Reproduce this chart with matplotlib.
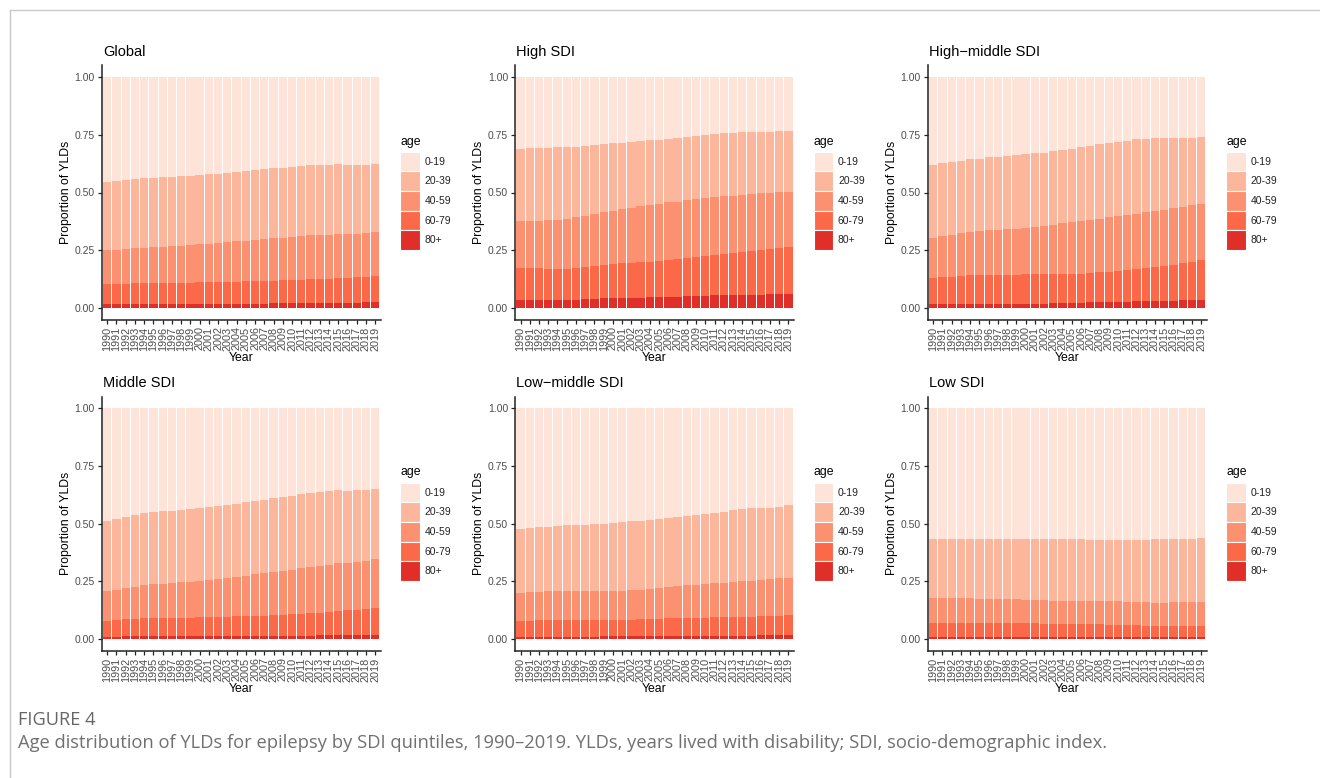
import matplotlib
matplotlib.use("Agg")
import matplotlib.pyplot as plt
from matplotlib.patches import Rectangle
from matplotlib.lines import Line2D
from matplotlib import font_manager
import numpy as np

plt.rcParams['font.family'] = ['Liberation Sans', 'DejaVu Sans']

years = list(range(1990, 2020))
age_groups = ["0-19", "20-39", "40-59", "60-79", "80+"]
age_colors = ["#FDE3D8", "#FBB69B", "#FB9171", "#FC6949", "#DF2F28"]
regions = ["Global", "High SDI", "High\u2212middle SDI", "Middle SDI", "Low\u2212middle SDI", "Low SDI"]

# cumulative shares: share of ages 20+, 40+, 60+, 80+
global_20plus = [.545, .549, .553, .557, .561, .563, .566, .568, .570, .572, .574, .578, .582, .585, .589,
                 .593, .597, .600, .604, .607, .610, .613, .617, .619, .621, .622, .617, .618, .620, .623]
global_40plus = [.250, .253, .256, .258, .261, .264, .266, .267, .270, .272, .275, .277, .280, .284, .288,
                 .291, .294, .298, .301, .305, .308, .311, .314, .316, .318, .319, .320, .321, .324, .328]
global_60plus = [.103, .104, .105, .106, .108, .109, .109, .109, .110, .110, .111, .111, .112, .113, .114,
                 .115, .116, .117, .118, .120, .122, .123, .125, .126, .127, .128, .131, .134, .136, .140]
global_80plus = [.015, .015, .015, .015, .015, .016, .016, .016, .016, .016, .017, .017, .017, .018, .018,
                 .018, .019, .019, .020, .020, .020, .021, .021, .022, .022, .022, .023, .023, .024, .025]

high_20plus = [.690, .691, .692, .694, .696, .698, .699, .701, .705, .709, .713, .716, .719, .722, .726,
               .729, .732, .736, .740, .745, .749, .752, .756, .759, .762, .763, .763, .764, .767, .768]
high_40plus = [.376, .377, .377, .380, .382, .387, .392, .400, .407, .414, .420, .428, .434, .440, .446,
               .452, .457, .461, .466, .471, .476, .481, .484, .487, .490, .493, .497, .500, .502, .504]
high_60plus = [.175, .173, .171, .170, .170, .170, .172, .178, .182, .186, .190, .194, .196, .199, .200,
               .204, .206, .210, .216, .221, .226, .231, .235, .238, .242, .247, .252, .257, .261, .265]
high_80plus = [.035, .035, .035, .035, .035, .036, .036, .038, .040, .041, .042, .043, .044, .045, .046,
               .047, .048, .049, .050, .051, .053, .054, .055, .056, .056, .057, .058, .060, .061, .062]

hmid_20plus = [.620, .627, .632, .638, .644, .647, .652, .655, .657, .661, .665, .670, .673, .679, .685,
               .690, .697, .703, .708, .714, .720, .724, .730, .733, .737, .738, .737, .736, .737, .742]
hmid_40plus = [.305, .312, .318, .323, .328, .334, .336, .339, .342, .344, .347, .351, .356, .361, .366,
               .371, .376, .381, .387, .392, .398, .404, .409, .414, .420, .426, .431, .437, .444, .452]
hmid_60plus = [.130, .133, .136, .140, .141, .142, .144, .144, .144, .144, .145, .145, .145, .145, .147,
               .147, .148, .151, .154, .157, .160, .164, .168, .172, .177, .182, .188, .195, .200, .206]
hmid_80plus = [.018, .019, .019, .019, .019, .019, .019, .019, .019, .019, .019, .019, .019, .020, .020,
               .021, .022, .024, .025, .025, .026, .027, .028, .028, .030, .030, .031, .033, .034, .035]

mid_20plus = [.510, .520, .528, .536, .544, .549, .553, .556, .559, .563, .567, .572, .576, .579, .584,
              .591, .597, .603, .609, .614, .620, .626, .631, .636, .640, .643, .642, .643, .646, .650]
mid_40plus = [.208, .213, .220, .226, .232, .236, .240, .242, .245, .247, .250, .254, .258, .262, .267,
              .274, .280, .285, .289, .294, .300, .306, .312, .318, .322, .327, .330, .332, .339, .346]
mid_60plus = [.079, .082, .085, .088, .090, .091, .091, .091, .092, .092, .093, .094, .095, .097, .099,
              .100, .100, .101, .102, .104, .106, .108, .111, .114, .117, .121, .124, .127, .131, .136]
mid_80plus = [.010, .010, .011, .011, .011, .011, .011, .011, .011, .011, .011, .011, .011, .012, .012,
              .013, .013, .013, .013, .014, .014, .014, .014, .015, .015, .015, .016, .016, .018, .019]

lmid_20plus = [.475, .479, .483, .487, .489, .492, .493, .495, .497, .499, .503, .506, .509, .512, .515,
               .519, .523, .527, .531, .535, .540, .545, .551, .558, .563, .568, .568, .569, .573, .578]
lmid_40plus = [.200, .202, .205, .206, .206, .208, .208, .207, .206, .206, .208, .209, .211, .214, .217,
               .220, .224, .228, .232, .233, .237, .241, .244, .248, .250, .253, .256, .258, .262, .265]
lmid_60plus = [.077, .079, .080, .080, .080, .080, .080, .080, .080, .080, .081, .083, .084, .085, .086,
               .087, .089, .090, .091, .092, .092, .093, .094, .096, .097, .097, .099, .100, .101, .102]
lmid_80plus = [.010, .010, .010, .010, .010, .010, .010, .010, .010, .011, .011, .011, .011, .011, .011,
               .011, .011, .011, .012, .012, .012, .012, .012, .013, .014, .014, .015, .015, .016, .017]

low_20plus = [.435, .435, .435, .435, .435, .435, .435, .435, .435, .435, .435, .435, .433, .432, .432,
              .431, .431, .428, .428, .428, .428, .428, .428, .430, .431, .431, .431, .431, .434, .437]
low_40plus = [.178, .178, .178, .178, .176, .175, .174, .172, .171, .171, .170, .170, .167, .166, .164,
              .163, .163, .163, .163, .163, .163, .162, .162, .159, .157, .157, .158, .161, .161, .162]
low_60plus = [.070, .071, .071, .071, .070, .070, .070, .070, .068, .068, .067, .067, .066, .064, .064,
              .063, .063, .063, .063, .062, .062, .061, .060, .058, .057, .056, .055, .056, .057, .057]
low_80plus = [.010, .010, .010, .009, .009, .009, .009, .008, .008, .008, .008, .008, .008, .008, .008,
              .008, .008, .008, .008, .008, .008, .008, .009, .009, .009, .008, .008, .008, .008, .008]

region_cum = [
    [global_20plus, global_40plus, global_60plus, global_80plus],
    [high_20plus, high_40plus, high_60plus, high_80plus],
    [hmid_20plus, hmid_40plus, hmid_60plus, hmid_80plus],
    [mid_20plus, mid_40plus, mid_60plus, mid_80plus],
    [lmid_20plus, lmid_40plus, lmid_60plus, lmid_80plus],
    [low_20plus, low_40plus, low_60plus, low_80plus],
]

W, H = 1320, 778
fig = plt.figure(figsize=(W / 100, H / 100), dpi=100)

# frame lines
fig.add_artist(Line2D([10 / W, 1], [1 - 10 / H, 1 - 10 / H], color="#c8c8c8", lw=1.0, transform=fig.transFigure))
fig.add_artist(Line2D([10 / W, 10 / W], [0, 1 - 10 / H], color="#c8c8c8", lw=1.0, transform=fig.transFigure))

col_left = [101.7, 515.0, 927.7]
col_w = 279.0
row_top = [65.5, 396.5]
row_h = 254.0

tick_col = "#4D4D4D"
axis_col = "#222222"

for idx, (name, cums) in enumerate(zip(regions, region_cum)):
    r, c = divmod(idx, 3)
    left, top = col_left[c], row_top[r]
    ax = fig.add_axes([left / W, 1 - (top + row_h) / H, col_w / W, row_h / H])
    x = np.arange(len(years))
    bounds = [np.ones(len(years))] + [np.array(v) for v in cums] + [np.zeros(len(years))]
    for g in range(5):
        upper, lower = bounds[g], bounds[g + 1]
        ax.bar(x, upper - lower, bottom=lower, width=0.9, color=age_colors[g], linewidth=0)
    ax.set_xlim(-0.6, len(years) - 1 + 0.6)
    ax.set_ylim(-0.05, 1.05)
    ax.set_xticks(x)
    ax.set_xticklabels([str(y) for y in years], rotation=90, fontsize=7.8, color=tick_col)
    ax.set_yticks([0, 0.25, 0.5, 0.75, 1.0])
    ax.set_yticklabels(["0.00", "0.25", "0.50", "0.75", "1.00"], fontsize=7.5, color=tick_col)
    ax.tick_params(axis="both", length=3, width=0.9, color=axis_col, pad=2)
    for s in ["top", "right"]:
        ax.spines[s].set_visible(False)
    for s in ["left", "bottom"]:
        ax.spines[s].set_color(axis_col)
        ax.spines[s].set_linewidth(1.1)
    ax.set_xlabel("Year", fontsize=8.8, labelpad=1)
    ax.set_ylabel("Proportion of YLDs", fontsize=8.8, labelpad=2)
    ax.set_title(name, fontsize=10.5, loc="left", pad=7, x=0.005)

    # legend (drawn manually, ggplot style)
    right = left + col_w
    cy = top + row_h / 2
    kx = right + 19.5
    kw, kh = 19.5, 19.66
    fig.text(kx / W, 1 - (cy - 51) / H, "age", fontsize=8.8, ha="left", va="center")
    for g in range(5):
        ky = cy - 40.8 + g * kh
        fig.add_artist(Rectangle((kx / W, 1 - (ky + kh) / H), kw / W, kh / H,
                                 facecolor=age_colors[g], edgecolor="white", lw=0.8,
                                 transform=fig.transFigure))
        fig.text((kx + kw + 5) / W, 1 - (ky + kh / 2) / H, age_groups[g], fontsize=7.5,
                 color="#222222", ha="left", va="center")

# caption
names = {f.name for f in font_manager.fontManager.ttflist}
cap_family = ["Liberation Sans Narrow", "Open Sans", "DejaVu Sans"] if "Liberation Sans Narrow" in names \
    else ["Open Sans", "DejaVu Sans"]
t1 = fig.text(18 / W, 1 - 720 / H, "FIGURE 4", fontsize=8.5, color="#666666",
              ha="left", va="center", family=cap_family)
t2 = fig.text(18 / W, 1 - 743 / H,
              "Age distribution of YLDs for epilepsy by SDI quintiles, 1990\u20132019. YLDs, years lived with disability; SDI, socio-demographic index.",
              fontsize=11, color="#707070", ha="left", va="center", family=cap_family)
fig.canvas.draw()
rend = fig.canvas.get_renderer()
for t, target in [(t1, 77.0), (t2, 1090.0)]:
    w = t.get_window_extent(rend).width
    t.set_fontsize(t.get_fontsize() * target / w)

fig.savefig("out.png", dpi=100)
